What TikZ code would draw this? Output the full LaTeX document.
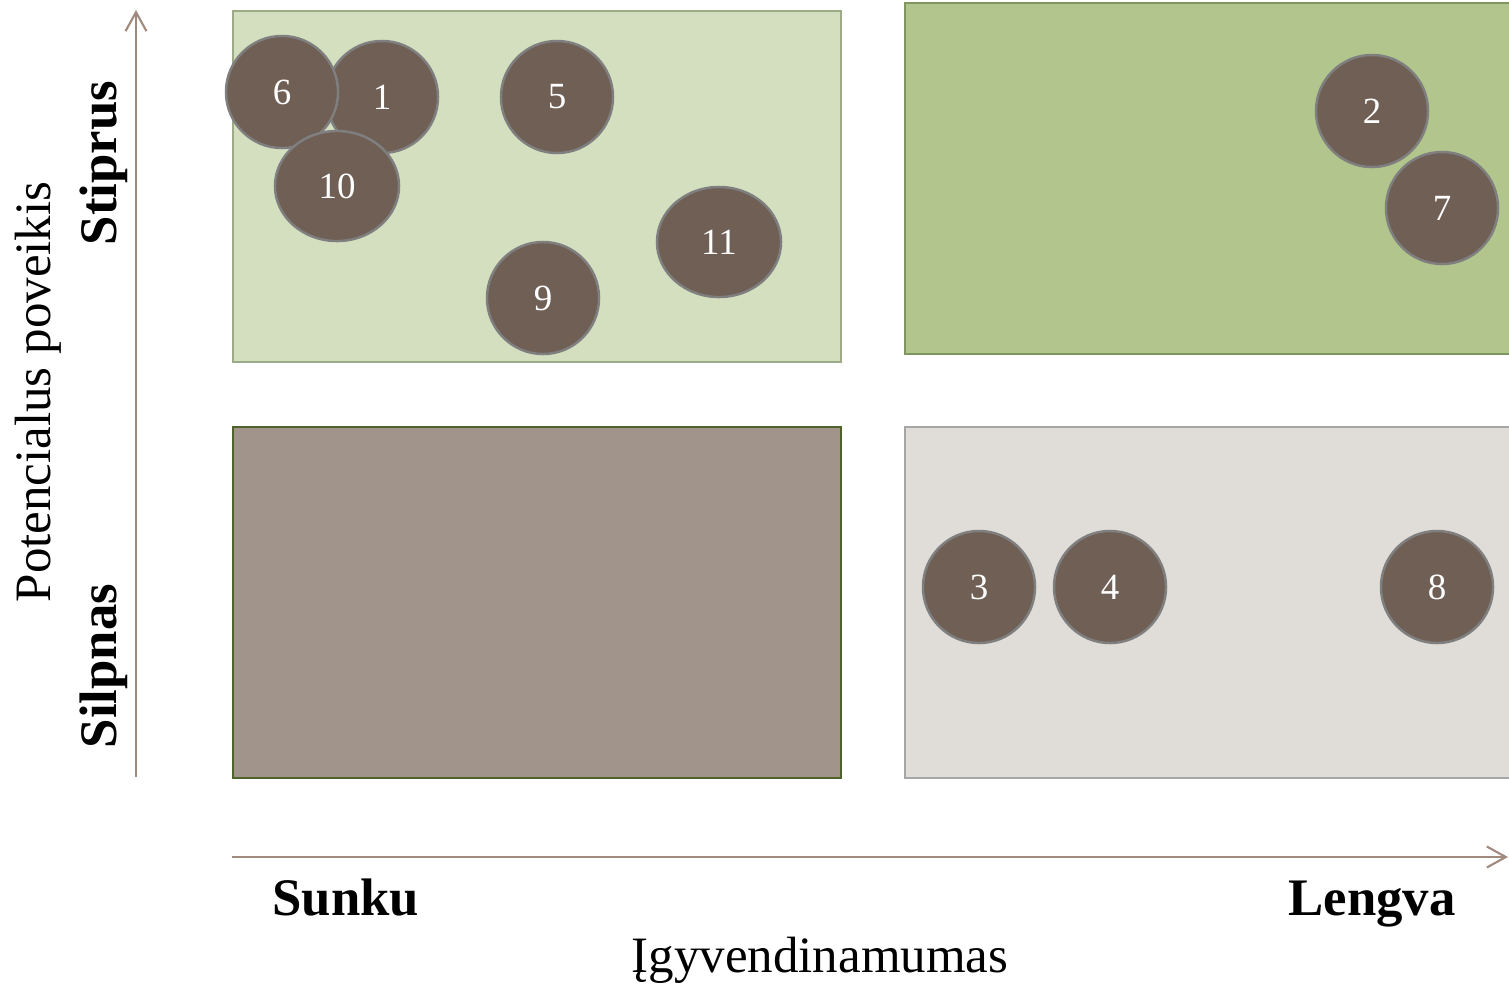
\documentclass[tikz,border=0pt]{standalone}
\usepackage{fontspec}
\setmainfont{Liberation Serif}
\usetikzlibrary{positioning,shapes.geometric,arrows.meta}
\definecolor{paleleaf}{HTML}{D4DFC0}
\definecolor{paleedge}{HTML}{9CAA88}
\definecolor{leaf}{HTML}{B1C58C}
\definecolor{leafedge}{HTML}{7F9663}
\definecolor{taupe}{HTML}{A1958B}
\definecolor{olive}{HTML}{4F6228}
\definecolor{mist}{HTML}{E0DCD8}
\definecolor{mistedge}{HTML}{A6A6A6}
\definecolor{bark}{HTML}{6F5F55}
\definecolor{barkedge}{HTML}{7F7F7F}
\definecolor{axisbrown}{HTML}{A08A7E}

\tikzset{
  quad/.style={draw, line width=0.6pt, minimum width=6.08cm, minimum height=3.51cm,
    inner sep=0pt, anchor=north west},
  idea/.style={ellipse, draw=barkedge, fill=bark, line width=0.7pt, text=white,
    minimum width=1.12cm, minimum height=1.12cm, inner sep=0pt,
    font=\fontsize{10.5}{12}\selectfont},
  axis/.style={draw=axisbrown, line width=0.6pt, -{Straight Barb[length=1.9mm,width=2.1mm]}},
  side/.style={font=\bfseries\fontsize{15}{18}\selectfont},
  caption/.style={font=\fontsize{14.5}{17}\selectfont}
}

\begin{document}
\begin{tikzpicture}[x=0.01cm, y=-0.01cm]
  \useasboundingbox (0,0) rectangle (1509,987);

  \node[quad, draw=paleedge, fill=paleleaf] (hardstrong) at (232,10) {};
  \node[quad, draw=leafedge, fill=leaf] (easystrong) at (904,2) {};
  \node[quad, draw=olive, fill=taupe] (hardweak) at (232,426) {};
  \node[quad, draw=mistedge, fill=mist] (easyweak) at (904,426) {};

  \node[idea] (c1) at (382,97) {1};
  \node[idea] (c6) at (282,92) {6};
  \node[idea, minimum width=1.24cm, minimum height=1.1cm] (c10) at (337,186) {10};
  \node[idea] (c5) at (557,97) {5};
  \node[idea, minimum width=1.24cm, minimum height=1.1cm] (c11) at (719,242) {11};
  \node[idea] (c9) at (543,298) {9};
  \node[idea] (c2) at (1372,111) {2};
  \node[idea] (c7) at (1442,208) {7};
  \node[idea] (c3) at (979,587) {3};
  \node[idea] (c4) at (1110,587) {4};
  \node[idea] (c8) at (1437,587) {8};

  \coordinate (yfoot) at (136,777);
  \coordinate (ytip) at (136,10);
  \coordinate (xfoot) at (232,857);
  \coordinate (xtip) at (1508,857);
  \draw[axis] (yfoot) -- (ytip);
  \draw[axis] (xfoot) -- (xtip);

  \node[side, rotate=90] (strong) at (104,163) {Stiprus};
  \node[side, rotate=90] (weak) at (104,666) {Silpnas};
  \node[caption, rotate=90] (impact) at (38,392) {Potencialus poveikis};
  \node[side, anchor=base] (hard) at (346,915) {Sunku};
  \node[side, anchor=base] (easy) at (1372,915) {Lengva};
  \node[caption, anchor=base] (feasible) at (820,972) {Įgyvendinamumas};
\end{tikzpicture}
\end{document}
